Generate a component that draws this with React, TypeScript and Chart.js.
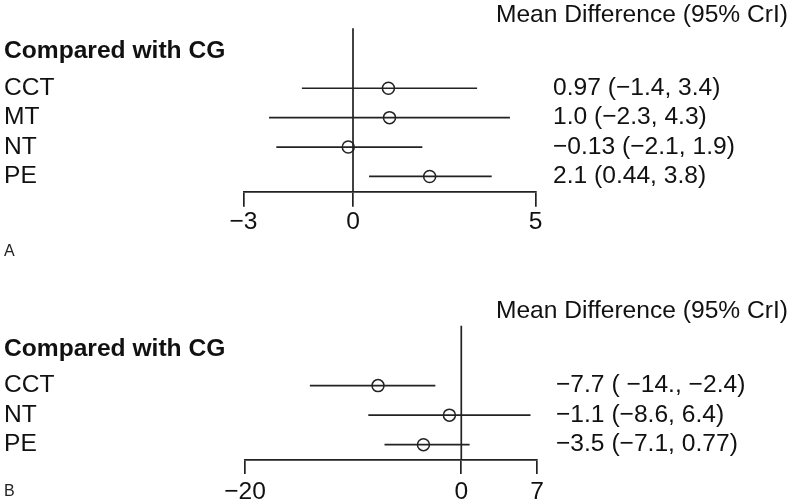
import React, { useEffect, useRef } from 'react';
import { Chart, registerables } from 'chart.js';

Chart.register(...registerables);

const MINUS = '\u2212';

// ---- Panel A data ----
const categoriesA = ['CCT', 'MT', 'NT', 'PE'];
const meanA = [0.97, 1.0, -0.13, 2.1];
const lowerA = [-1.4, -2.3, -2.1, 0.44];
const upperA = [3.4, 4.3, 1.9, 3.8];
const estLabelsA = ['0.97 (−1.4, 3.4)', '1.0 (−2.3, 4.3)', '−0.13 (−2.1, 1.9)', '2.1 (0.44, 3.8)'];
const ticksA = [-3, 0, 5];

// ---- Panel B data ----
const categoriesB = ['CCT', 'NT', 'PE'];
const meanB = [-7.7, -1.1, -3.5];
const lowerB = [-14, -8.6, -7.1];
const upperB = [-2.4, 6.4, 0.77];
const estLabelsB = ['−7.7 ( −14., −2.4)', '−1.1 (−8.6, 6.4)', '−3.5 (−7.1, 0.77)'];
const ticksB = [-20, 0, 7];

const headerText = 'Compared with CG';
const titleText = 'Mean Difference (95% CrI)';

const INK = '#222222';
const TEXT = '#111111';
const LW = 1.7;
const FONT = '"Liberation Sans", Arial, Helvetica, sans-serif';
const FS = 24.6;

type PanelCfg = {
  letter: string;
  cats: string[];
  mean: number[];
  lo: number[];
  hi: number[];
  est: string[];
  ticks: number[];
  height: number;
  top: number;
  padLeft: number;
  padRight: number;
  padTop: number;
  padBottom: number;
  axisH: number;
  tickLen: number;
  tickPad: number;
  yMin: number;
  yMax: number;
  titleY: number;
  headerY: number;
  estX: number;
  letterY: number;
};

function ForestPanel({ cfg }: { cfg: PanelCfg }) {
  const ref = useRef<HTMLCanvasElement>(null);
  useEffect(() => {
    const canvas = ref.current;
    if (!canvas) return;
    const datasets: any[] = [];
    datasets.push({
      label: 'zero',
      data: [
        { x: 0, y: cfg.yMin },
        { x: 0, y: cfg.yMax },
      ],
      showLine: true,
      borderColor: INK,
      borderWidth: LW,
      pointRadius: 0,
      clip: false,
    });
    cfg.cats.forEach((c, i) => {
      datasets.push({
        label: c + ' CrI',
        data: [
          { x: cfg.lo[i], y: i + 1 },
          { x: cfg.hi[i], y: i + 1 },
        ],
        showLine: true,
        borderColor: INK,
        borderWidth: LW,
        pointRadius: 0,
        clip: false,
      });
    });
    datasets.push({
      label: 'mean',
      data: cfg.mean.map((m, i) => ({ x: m, y: i + 1 })),
      showLine: false,
      pointRadius: 6,
      pointBorderWidth: 1.5,
      pointBackgroundColor: 'rgba(0,0,0,0)',
      pointBorderColor: INK,
      clip: false,
    });

    const textPlugin = {
      id: 'forestText',
      afterDraw(chart: any) {
        const ctx = chart.ctx;
        const y = chart.scales.y;
        ctx.save();
        ctx.fillStyle = TEXT;
        ctx.textBaseline = 'middle';
        ctx.font = `${FS}px ${FONT}`;
        ctx.textAlign = 'right';
        ctx.fillText(titleText, 788, cfg.titleY);
        ctx.textAlign = 'left';
        ctx.font = `bold ${FS}px ${FONT}`;
        ctx.fillText(headerText, 4, cfg.headerY);
        ctx.font = `${FS}px ${FONT}`;
        cfg.cats.forEach((c, i) => {
          const py = y.getPixelForValue(i + 1);
          ctx.fillText(c, 4, py);
          ctx.fillText(cfg.est[i], cfg.estX, py);
        });
        ctx.font = `16px ${FONT}`;
        ctx.fillStyle = '#222';
        ctx.fillText(cfg.letter, 4, cfg.letterY);
        ctx.restore();
      },
    };

    const chart = new Chart(canvas, {
      type: 'scatter',
      data: { datasets },
      options: {
        animation: false,
        responsive: false,
        events: [],
        layout: {
          padding: { left: cfg.padLeft, right: cfg.padRight, top: cfg.padTop, bottom: cfg.padBottom },
        },
        plugins: { legend: { display: false }, tooltip: { enabled: false } },
        scales: {
          x: {
            type: 'linear',
            position: 'bottom',
            min: cfg.ticks[0],
            max: cfg.ticks[cfg.ticks.length - 1],
            afterBuildTicks: (s: any) => {
              s.ticks = cfg.ticks.map((v) => ({ value: v }));
            },
            afterFit: (s: any) => {
              s.height = cfg.axisH;
            },
            border: { display: true, color: INK, width: LW },
            grid: {
              drawOnChartArea: false,
              drawTicks: true,
              tickLength: cfg.tickLen,
              color: INK,
              lineWidth: LW,
            },
            ticks: {
              autoSkip: false,
              maxRotation: 0,
              padding: cfg.tickPad,
              color: TEXT,
              font: { family: FONT, size: FS },
              callback: (v: any) => String(v).replace('-', MINUS),
            },
          },
          y: {
            type: 'linear',
            min: cfg.yMin,
            max: cfg.yMax,
            reverse: true,
            display: false,
          },
        },
      },
      plugins: [textPlugin],
    } as any);
    return () => chart.destroy();
  }, [cfg]);
  return (
    <canvas
      ref={ref}
      width={800}
      height={cfg.height}
      style={{ position: 'absolute', left: 0, top: cfg.top, width: 800, height: cfg.height, display: 'block' }}
    />
  );
}

const cfgA: PanelCfg = {
  letter: 'A',
  cats: categoriesA,
  mean: meanA,
  lo: lowerA,
  hi: upperA,
  est: estLabelsA,
  ticks: ticksA,
  height: 270,
  top: 0,
  padLeft: 243.5,
  padRight: 800 - 535.5,
  padTop: 28.3,
  padBottom: 270 - 191.7 - 45,
  axisH: 45,
  tickLen: 15,
  tickPad: 1,
  yMin: -1.04,
  yMax: 4.52,
  titleY: 15,
  headerY: 51.5,
  estX: 553,
  letterY: 252,
};

const cfgB: PanelCfg = {
  letter: 'B',
  cats: categoriesB,
  mean: meanB,
  lo: lowerB,
  hi: upperB,
  est: estLabelsB,
  ticks: ticksB,
  height: 233,
  top: 270,
  padLeft: 245,
  padRight: 800 - 537,
  padTop: 55.7,
  padBottom: 233 - 190 - 40,
  axisH: 40,
  tickLen: 14,
  tickPad: 3,
  yMin: -1.03,
  yMax: 3.52,
  titleY: 41.5,
  headerY: 79,
  estX: 556,
  letterY: 222,
};

export default function App() {
  return (
    <div style={{ position: 'absolute', left: 0, top: 0, width: 800, height: 503, background: '#fff', overflow: 'hidden' }}>
      <ForestPanel cfg={cfgA} />
      <ForestPanel cfg={cfgB} />
    </div>
  );
}
